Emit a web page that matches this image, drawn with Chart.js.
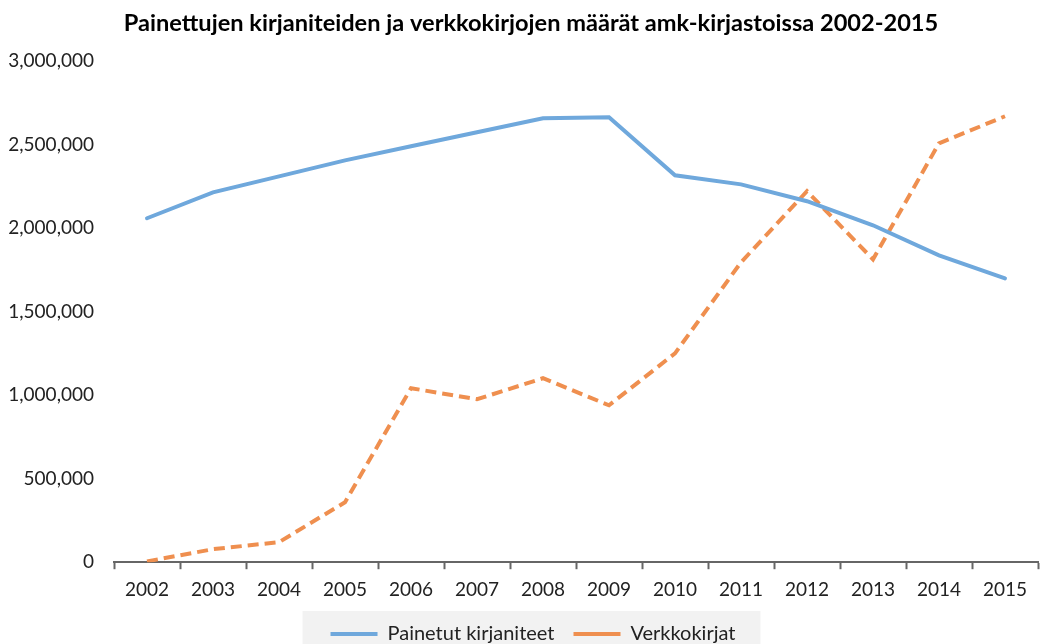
<!DOCTYPE html>
<html>
<head>
<meta charset="utf-8">
<script src="https://cdn.jsdelivr.net/npm/chart.js@4/dist/chart.umd.min.js"></script>
<style>
  html, body { margin: 0; padding: 0; background: #fff; overflow: hidden; }
</style>
</head>
<body>
<canvas id="chart" width="1041" height="644"></canvas>
<script>
// Data
const years = ['2002', '2003', '2004', '2005', '2006', '2007', '2008',
  '2009', '2010', '2011', '2012', '2013', '2014', '2015'];
const painetut = [2060000, 2215000, 2311000, 2407000, 2491000, 2575000, 2659000,
  2665000, 2317000, 2263000, 2162000, 2018000, 1838000, 1700000];
const verkkokirjat = [5000, 78000, 120000, 359000, 1042000, 976000, 1102000,
  940000, 1251000, 1796000, 2222000, 1814000, 2509000, 2671000];
const yTicks = [0, 500000, 1000000, 1500000, 2000000, 2500000, 3000000];

const FONT = 'Lato, "Open Sans", sans-serif';
const LEGEND_SHIFT = 14;
const TITLE_SHIFT = 12;

// Move legend and title a bit right, like in the original
const blockShift = {
  id: 'blockShift',
  afterLayout(chart) {
    if (chart.legend) {
      chart.legend.left += LEGEND_SHIFT;
      chart.legend.right += LEGEND_SHIFT;
    }
    if (chart.titleBlock) {
      chart.titleBlock.left += TITLE_SHIFT;
      chart.titleBlock.right += TITLE_SHIFT;
    }
  }
};

// Grey box behind the legend
const legendBg = {
  id: 'legendBg',
  beforeDraw(chart) {
    const boxes = chart.legend && chart.legend.legendHitBoxes;
    if (!boxes || !boxes.length) return;
    const left = Math.min(...boxes.map(b => b.left)) - 28;
    const right = Math.max(...boxes.map(b => b.left + b.width)) + 25;
    const top = boxes[0].top + boxes[0].height / 2 - 23;
    const ctx = chart.ctx;
    ctx.save();
    ctx.fillStyle = '#f2f2f2';
    ctx.fillRect(left, top, right - left, chart.height - top);
    ctx.restore();
  }
};

new Chart(document.getElementById('chart'), {
  type: 'line',
  data: {
    labels: years,
    datasets: [{
      label: 'Painetut kirjaniteet',
      data: painetut,
      borderColor: '#6fa8dc',
      backgroundColor: '#6fa8dc',
      borderWidth: 4,
      borderCapStyle: 'round',
      pointRadius: 0,
      tension: 0
    }, {
      label: 'Verkkokirjat',
      data: verkkokirjat,
      borderColor: '#ef8f4f',
      backgroundColor: '#ef8f4f',
      borderWidth: 4,
      borderDash: [11, 6],
      pointRadius: 0,
      tension: 0
    }]
  },
  options: {
    responsive: false,
    animation: false,
    layout: { padding: { left: 0, right: 3, bottom: -10, top: 0 } },
    plugins: {
      title: {
        display: true,
        text: 'Painettujen kirjaniteiden ja verkkokirjojen määrät amk-kirjastoissa 2002-2015',
        color: '#000',
        font: { family: FONT, size: 23.6, weight: 'bold' },
        padding: { top: 9, bottom: 24 }
      },
      legend: {
        position: 'bottom',
        labels: {
          color: '#222',
          font: { family: FONT, size: 20 },
          usePointStyle: true,
          pointStyle: 'line',
          pointStyleWidth: 47,
          padding: 19
        }
      },
      tooltip: { enabled: false }
    },
    scales: {
      x: {
        offset: true,
        afterFit(scale) {
          scale.height -= 5;
        },
        grid: {
          display: true,
          offset: true,
          drawOnChartArea: false,
          drawTicks: true,
          tickLength: 7,
          tickWidth: 2,
          tickColor: '#666'
        },
        border: { display: true, color: '#666', width: 2 },
        ticks: {
          color: '#222',
          font: { family: FONT, size: 19 },
          padding: 9,
          maxRotation: 0
        }
      },
      y: {
        min: 0,
        max: 3000000,
        afterBuildTicks(scale) {
          scale.ticks = yTicks.map(v => ({ value: v }));
        },
        afterFit(scale) {
          scale.width = 114;
        },
        grid: { display: false, drawTicks: false },
        border: { display: false },
        ticks: {
          color: '#222',
          font: { family: FONT, size: 19 },
          padding: 20,
          callback: v => v.toLocaleString('en-US')
        }
      }
    }
  },
  plugins: [blockShift, legendBg]
});
</script>
</body>
</html>
